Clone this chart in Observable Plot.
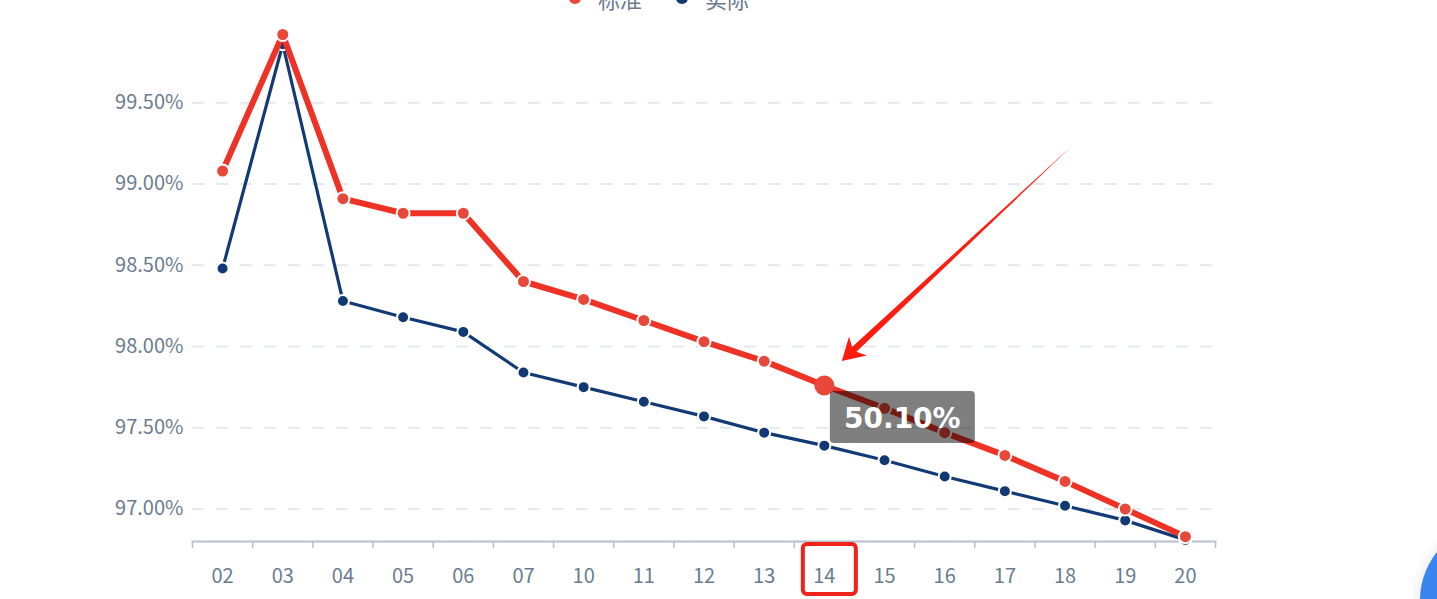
<!DOCTYPE html>
<html><head><meta charset="utf-8">
<script src="https://cdn.jsdelivr.net/npm/d3@7"></script>
<script src="https://cdn.jsdelivr.net/npm/@observablehq/plot@0.6"></script>
<style>
html,body{margin:0;padding:0;background:#fff;overflow:hidden;}
#wrap{position:relative;width:1437px;height:599px;overflow:hidden;font-family:"Noto Sans CJK SC","Noto Sans",sans-serif;}
#legend{position:absolute;top:-14px;left:569px;height:24px;display:flex;align-items:center;font-size:22px;color:#6b7c8f;white-space:nowrap;}
#legend .item{display:flex;align-items:center;margin-right:34px;}
#legend .sw{width:12px;height:12px;border-radius:50%;margin-right:17px;}
#fab{position:absolute;left:1420px;top:524px;width:152px;height:152px;border-radius:50%;background:#3a86f0;box-shadow:0 0 14px rgba(0,0,0,0.12);}
</style></head><body>
<div id="wrap"><div id="chart"></div><div id="legend"></div><div id="fab"></div></div>
<script>
const categories = ["02","03","04","05","06","07","10","11","12","13","14","15","16","17","18","19","20"];
const standard = [99.08, 99.92, 98.91, 98.82, 98.82, 98.40, 98.29, 98.16, 98.03, 97.91, 97.76, 97.62, 97.47, 97.33, 97.17, 97.00, 96.83];
const actual   = [98.48, 99.86, 98.28, 98.18, 98.09, 97.84, 97.75, 97.66, 97.57, 97.47, 97.39, 97.30, 97.20, 97.11, 97.02, 96.93, 96.81];
const yTicks = [97.0, 97.5, 98.0, 98.5, 99.0, 99.5];
const seriesNames = ["标准", "实际"];
const seriesColors = ["#e8483a", "#113a74"];
const lineColors = ["#ee3226", "#123b76"];
const highlightCategory = "14";
const tooltipLabel = "50.10%";

const stdRows = categories.map((c, i) => ({i, c, v: standard[i]}));
const actRows = categories.map((c, i) => ({i, c, v: actual[i]}));
const hiRows = stdRows.filter(d => d.c === highlightCategory);

const chart = Plot.plot({
  width: 1437, height: 599,
  marginLeft: 192, marginRight: 222, marginTop: 34, marginBottom: 58,
  style: {fontFamily: '"Noto Sans CJK SC","Noto Sans",sans-serif', background: "#fff", color: "#6b7c8f"},
  x: {type: "linear", domain: [-0.5, categories.length - 0.5], label: null},
  y: {domain: [96.8, 99.92], label: null},
  marks: [
    Plot.gridY(yTicks, {stroke: "#e3e9ef", strokeOpacity: 1, strokeWidth: 2, strokeDasharray: "12,12"}),
    Plot.axisY(yTicks, {label: null, tickSize: 0, tickPadding: 9, fontSize: 20, fill: "#6b7c8f", tickFormat: d => d.toFixed(2) + "%"}),
    Plot.frame({anchor: "bottom", stroke: "#b6c0ca", strokeWidth: 2}),
    Plot.axisX(d3.range(categories.length + 1).map(i => i - 0.5), {label: null, tickSize: 7, stroke: "#b6c0ca", strokeWidth: 1.5, tickFormat: () => ""}),
    Plot.axisX(d3.range(categories.length), {label: null, tickSize: 0, tickPadding: 27, fontSize: 20, fill: "#6b7c8f", tickFormat: i => categories[i]}),
    Plot.line(actRows, {x: "i", y: "v", stroke: lineColors[1], strokeWidth: 3.2}),
    Plot.dot(actRows, {x: "i", y: "v", r: 6, fill: seriesColors[1], stroke: "#fff", strokeWidth: 2}),
    Plot.line(stdRows, {x: "i", y: "v", stroke: lineColors[0], strokeWidth: 6}),
    Plot.dot(stdRows, {x: "i", y: "v", r: 6.5, fill: seriesColors[0], stroke: "#fff", strokeWidth: 2}),
    Plot.dot(hiRows, {x: "i", y: "v", r: 10, fill: seriesColors[0]})
  ]
});
document.getElementById("chart").appendChild(chart);

// legend
const lg = d3.select("#legend");
seriesNames.forEach((n, k) => {
  const it = lg.append("div").attr("class", "item");
  it.append("div").attr("class", "sw").style("background", seriesColors[k]);
  it.append("span").text(n);
});

// annotations derived from scales
const sx = chart.scale("x"), sy = chart.scale("y");
const hi = hiRows[0];
const px = sx.apply(hi.i), py = sy.apply(hi.v);
const svg = d3.select(chart);
const ann = svg.append("g");

// tooltip
ann.append("rect").attr("x", px + 6).attr("y", py + 6).attr("width", 145).attr("height", 52).attr("rx", 4)
  .attr("fill", "rgba(0,0,0,0.5)");
ann.append("text").attr("x", px + 6 + 72.5).attr("y", py + 6 + 27).attr("text-anchor", "middle")
  .attr("dominant-baseline", "central").attr("fill", "#fff").attr("font-weight", "bold")
  .attr("font-family", '"DejaVu Sans",Verdana,sans-serif').attr("font-size", 28).text(tooltipLabel);

// arrow
const T = [px + 18, py - 24];
const tail = [px + 249, py - 240];
const dx = tail[0] - T[0], dy = tail[1] - T[1];
const L = Math.hypot(dx, dy);
const u = [dx / L, dy / L], n = [-u[1], u[0]];
const P = (a, b) => [T[0] + a * u[0] + b * n[0], T[1] + a * u[1] + b * n[1]];
const pts = [T, P(22, 13), P(17, 3.2), P(L, 0), P(17, -3.2), P(22, -13)];
ann.append("path").attr("d", "M" + pts.map(p => p.join(",")).join("L") + "Z").attr("fill", "#ff1d10");

// red box around highlighted x label
const axisY0 = sy.apply(96.8);
ann.append("rect").attr("x", px - 21).attr("y", axisY0 + 3).attr("width", 53).attr("height", 50).attr("rx", 4)
  .attr("fill", "none").attr("stroke", "#f0231b").attr("stroke-width", 4);
</script>
</body></html>
